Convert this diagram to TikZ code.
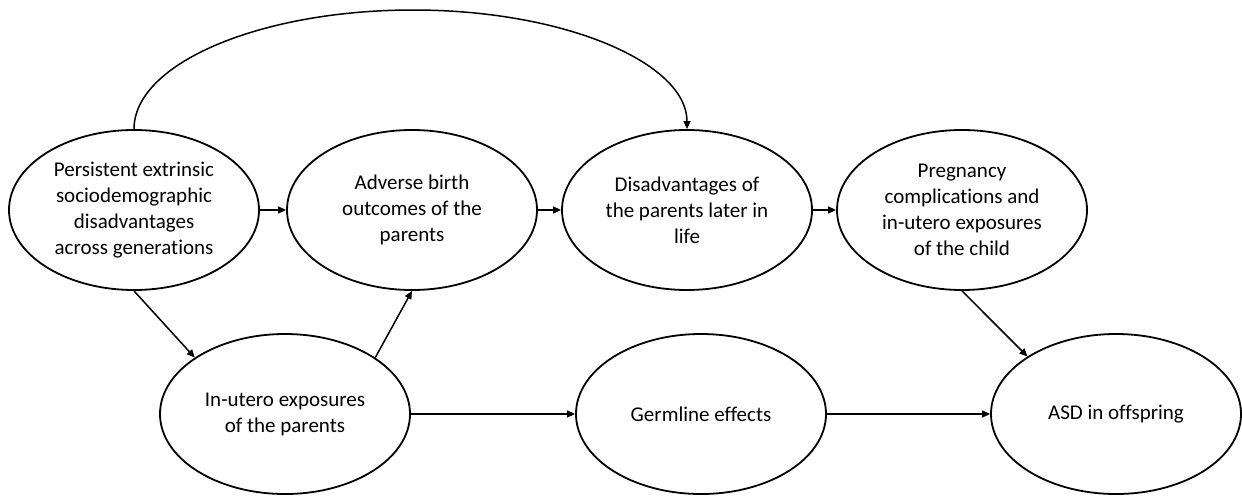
\documentclass[tikz,border=0pt]{standalone}
\usepackage{fontspec}
\setmainfont{Carlito}[Ligatures=CommonOff]
\usetikzlibrary{shapes.geometric,arrows.meta}
\tikzset{
  x=1pt, y=-1pt,
  oval/.style={draw, ellipse, line width=1.8pt, minimum width=250pt, minimum height=160pt,
    inner sep=0pt, align=center, font=\fontsize{21}{26}\selectfont},
  conn/.style={line width=1.5pt, -{Triangle[length=8pt,width=7pt]}}
}
\begin{document}
\begin{tikzpicture}
\useasboundingbox (0,0) rectangle (1242,498);
\node[oval] (e1) at (134,210) {Persistent extrinsic\\sociodemographic\\disadvantages\\across generations};
\node[oval] (e2) at (412,210) {Adverse birth\\outcomes of the\\parents};
\node[oval] (e3) at (687,210) {Disadvantages of\\the parents later in\\life};
\node[oval] (e4) at (962,210) {Pregnancy\\complications and\\in-utero exposures\\of the child};
\node[oval] (e5) at (285,414) {In-utero exposures\\of the parents};
\node[oval] (e6) at (701,414) {Germline effects};
\node[oval] (e7) at (1116,414) {ASD in offspring};
\coordinate (peak) at (413,10);
\draw[conn] (e1.east) -- (e2.west);
\draw[conn] (e2.east) -- (e3.west);
\draw[conn] (e3.east) -- (e4.west);
\draw[conn] (e1.south) -- (e5.148);
\draw[conn] (e5.32) -- (e2.south);
\draw[conn] (e5.east) -- (e6.west);
\draw[conn] (e6.east) -- (e7.west);
\draw[conn] (e4.south) -- (e7.147);
\draw[conn] (e1.north) .. controls +(0,-66) and +(-152,0) .. (peak)
  .. controls +(152,0) and +(0,-66) .. (e3.north);
\end{tikzpicture}
\end{document}
